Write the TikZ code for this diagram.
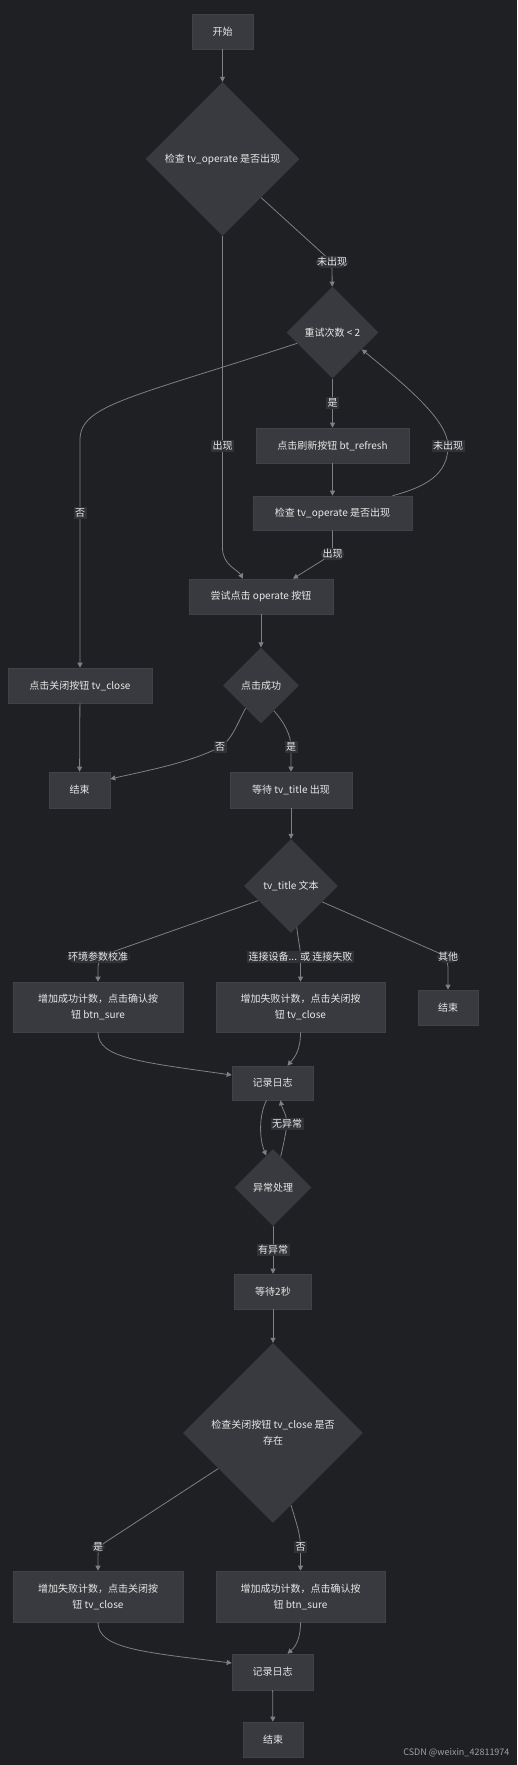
\documentclass[tikz,border=0pt]{standalone}
\usepackage{fontspec}
\newfontfamily\cjk{Noto Sans CJK SC}
\usepackage{tikz}
\usetikzlibrary{shapes.geometric,arrows.meta,positioning}
\definecolor{bgc}{HTML}{1F2023}
\definecolor{nodefill}{HTML}{393A3F}
\definecolor{nodeline}{HTML}{414247}
\definecolor{edgec}{HTML}{808084}
\definecolor{txtc}{HTML}{E8E8E8}
\definecolor{lblfill}{HTML}{303237}
\definecolor{markc}{HTML}{A0A0A4}

\begin{document}
\begin{tikzpicture}[x=1pt, y=-1pt,
  block/.style={rectangle, draw=nodeline, fill=nodefill, text=txtc, line width=0.6pt,
                inner sep=0pt, minimum height=35pt, align=center},
  decision/.style={diamond, aspect=1, fill=nodefill, text=txtc, inner sep=0pt, align=center},
  lbl/.style={fill=lblfill, text=txtc, inner sep=1.5pt},
  arrow/.style={-{Triangle[length=5pt,width=5pt]}, draw=edgec, line width=0.8pt},
  font=\cjk\fontsize{10}{16}\selectfont
]
\fill[bgc] (0,0) rectangle (517,1765);

% main column
\node[block, minimum width=61pt] (start) at (222.5,31.5) {开始};
\node[decision, minimum size=154pt] (chk) at (222.5,159) {检查 tv\_operate 是否出现};
\node[decision, minimum size=92pt] (retry) at (332.5,332.5) {重试次数 < 2};
\node[block, minimum width=153pt] (refresh) at (332.5,445.5) {点击刷新按钮 bt\_refresh};
\node[block, minimum width=159pt, minimum height=34pt] (recheck) at (332.5,513) {检查 tv\_operate 是否出现};
\node[block, minimum width=144pt] (tryop) at (261,596.5) {尝试点击 operate 按钮};
\node[block, minimum width=144pt] (close) at (80,685.5) {点击关闭按钮 tv\_close};
\node[decision, minimum size=76pt] (ok) at (261,685.5) {点击成功};
\node[block, minimum width=61pt, minimum height=36pt] (endA) at (79.5,790) {结束};
\node[block, minimum width=122pt, minimum height=36pt] (wait) at (291,790) {等待 tv\_title 出现};
\node[decision, minimum size=94pt] (title) at (291,886) {tv\_title 文本};

% title branches
\node[block, minimum width=170pt, minimum height=50pt] (sure) at (98,1007) {增加成功计数，点击确认按\\钮 btn\_sure};
\node[block, minimum width=169pt, minimum height=50pt] (fail) at (300.5,1007) {增加失败计数，点击关闭按\\钮 tv\_close};
\node[block, minimum width=60pt] (endB) at (448,1007.5) {结束};
\node[block, minimum width=81pt, minimum height=34pt] (logA) at (272.5,1083) {记录日志};
\node[decision, minimum size=77pt] (exc) at (273,1187.5) {异常处理};
\node[block, minimum width=77pt] (delay) at (273,1291.5) {等待2秒};
\node[decision, minimum size=180pt] (chkclose) at (273,1433) {检查关闭按钮 tv\_close 是否\\存在};
\node[block, minimum width=170pt, minimum height=51pt] (failB) at (98,1596.5) {增加失败计数，点击关闭按\\钮 tv\_close};
\node[block, minimum width=169pt, minimum height=51pt] (sureB) at (300.5,1596.5) {增加成功计数，点击确认按\\钮 btn\_sure};
\node[block, minimum width=81pt, minimum height=36pt] (logB) at (272.5,1672) {记录日志};
\node[block, minimum width=60pt] (endC) at (273,1739.5) {结束};
\node[text=markc, anchor=east, font=\cjk\fontsize{9}{11}\selectfont] (mark) at (513,1753) {CSDN @weixin\_42811974};

\draw[arrow] (start) -- (chk);
\draw[arrow, rounded corners=8pt] (chk.-45) -- (332,262) node[lbl]{未出现} -- (retry);
\draw[arrow] (chk) -- (222.5,446) node[lbl]{出现} -- (222.5,548)
  .. controls (222.5,565) and (238,570) .. ([xshift=-18pt]tryop.north);
\draw[arrow] (retry.197) .. controls (130,398) and (80,405) .. (80,440) -- (80,513) node[lbl]{否} -- (close);
\draw[arrow] (retry) -- node[lbl]{是} (refresh);
\draw[arrow] (refresh) -- (recheck);
\draw[arrow] ([xshift=60pt]recheck.north) .. controls (425,487) and (448,475) .. (448,446) node[lbl]{未出现}
  .. controls (448,420) and (405,385) .. (retry.-30);
\draw[arrow, rounded corners=6pt] (recheck) -- (332.5,554) node[lbl]{出现} -- ([xshift=32pt]tryop.north);
\draw[arrow] (tryop) -- (ok);
\draw[arrow] (ok.236) .. controls (238,722) and (232,740) .. (220,747) node[lbl]{否}
  .. controls (190,763) and (140,772) .. ([yshift=11pt]endA.east);
\draw[arrow] (ok.-63) .. controls (284,722) and (291,735) .. (291,747) node[lbl]{是} -- (wait);
\draw[arrow] (close) -- (endA);
\draw[arrow] (wait) -- (title);
\draw[arrow, rounded corners=10pt] (title.204) -- (98,957) node[lbl]{环境参数校准} -- (sure);
\draw[arrow] (title.-82) .. controls (298,940) and (300.5,948) .. (300.5,957) node[lbl]{连接设备... 或 连接失败} -- (fail);
\draw[arrow, rounded corners=10pt] (title.-27) -- (448,957) node[lbl]{其他} -- (endB);
\draw[arrow] (sure.south) .. controls (98,1058) and (140,1062) .. ([yshift=8pt]logA.west);
\draw[arrow] (fail.south) .. controls (300.5,1050) and (295,1057) .. ([xshift=15pt]logA.north);
\draw[arrow] ([xshift=-6pt]logA.south) .. controls (259,1115) and (259,1138) .. (exc.102);
\draw[arrow] (exc.76) .. controls (284,1142) and (286,1132) .. (287,1124) node[lbl]{无异常}
  .. controls (287,1115) and (282,1108) .. ([xshift=8pt]logA.south);
\draw[arrow] (exc) -- node[lbl]{有异常} (delay);
\draw[arrow] (delay) -- (chkclose);
\draw[arrow, rounded corners=8pt] (chkclose.213) -- (98,1547) node[lbl]{是} -- (failB);
\draw[arrow] (chkclose.-76) .. controls (297,1525) and (300.5,1535) .. (300.5,1547) node[lbl]{否} -- (sureB);
\draw[arrow] (failB.south) .. controls (98,1648) and (140,1652) .. ([yshift=9pt]logB.west);
\draw[arrow] (sureB.south) .. controls (300.5,1640) and (295,1647) .. ([xshift=15pt]logB.north);
\draw[arrow] (logB) -- (endC);
\end{tikzpicture}
\end{document}
